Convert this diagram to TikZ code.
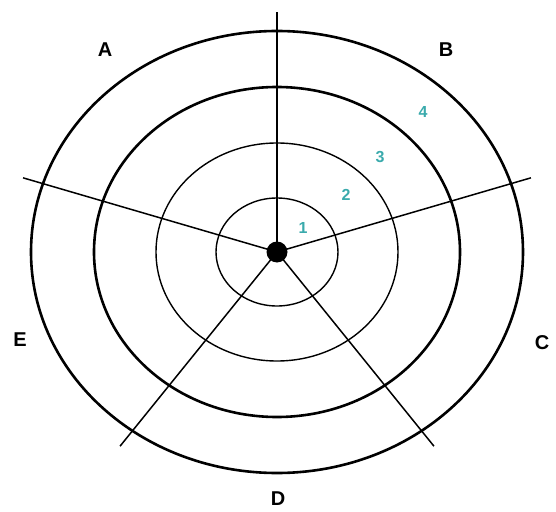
\documentclass[tikz,border=0pt]{standalone}
\usepackage{fontspec}
\setmainfont{Liberation Sans}
\usetikzlibrary{positioning}
\definecolor{ringnumcol}{RGB}{58,170,172}
\tikzset{
  ring thick/.style={draw=black,line width=2.6pt},
  ring thin/.style={draw=black,line width=1.4pt},
  spoke/.style={draw=black,line width=1.5pt},
  sector label/.style={font=\fontsize{20}{22}\selectfont\bfseries,text=black},
  ring num/.style={font=\fontsize{16}{18}\selectfont\bfseries,text=ringnumcol},
  hub dot/.style={circle,fill=black,minimum size=21pt,inner sep=0pt}
}
\begin{document}
\begin{tikzpicture}[x=1pt,y=1pt]
  \useasboundingbox (-277,-259) rectangle (279,252);
  \coordinate (hub) at (0,0);

  % rings, outer two heavier
  \draw[ring thick] (hub) ellipse[x radius=246,y radius=221];
  \draw[ring thick] (hub) ellipse[x radius=183,y radius=165];
  \draw[ring thin]  (hub) ellipse[x radius=121,y radius=109];
  \draw[ring thin]  (hub) ellipse[x radius=61,y radius=54];

  % five spokes
  \foreach \ang [count=\i] in {90,18,-54,-126,162}{
    \coordinate (end\i) at (\ang:267 and 240);
    \draw[spoke] (hub) -- (end\i);
  }
  \node[hub dot] (centre) at (hub) {};

  \node[sector label] (labA) at (-172,202) {A};
  \node[sector label] (labB) at (169,202) {B};
  \node[sector label] (labC) at (265,-91) {C};
  \node[sector label] (labD) at (1,-247) {D};
  \node[sector label] (labE) at (-257,-88) {E};

  \node[ring num] (num1) at (26,24) {1};
  \node[ring num] (num2) at (69,57) {2};
  \node[ring num] (num3) at (103,95) {3};
  \node[ring num] (num4) at (146,140) {4};
\end{tikzpicture}
\end{document}
